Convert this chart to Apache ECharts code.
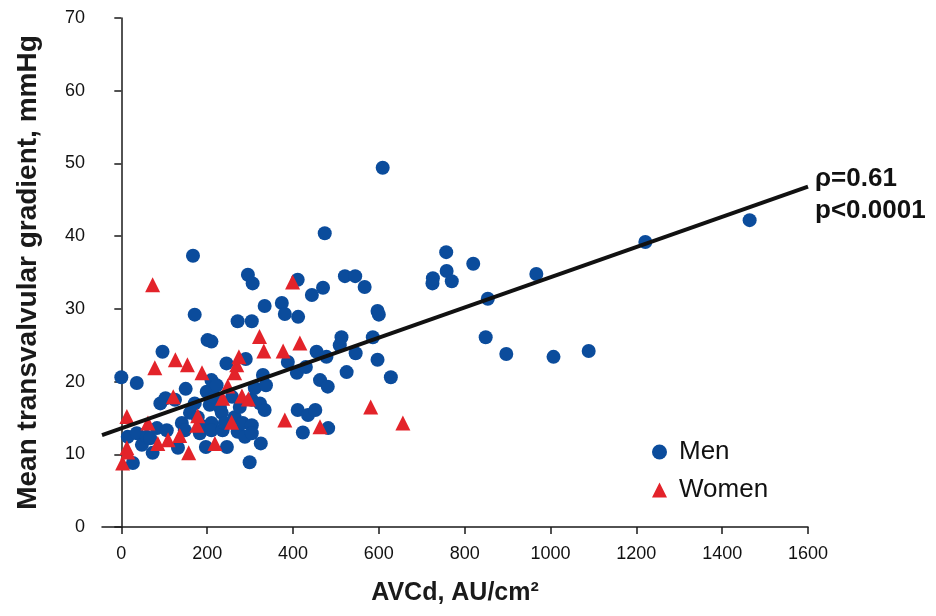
<!DOCTYPE html>
<html>
<head>
<meta charset="utf-8">
<script src="https://cdn.jsdelivr.net/npm/echarts@6/dist/echarts.min.js"></script>
<style>html,body{margin:0;padding:0;background:#fff;}#c{width:936px;height:616px;}</style>
</head>
<body>
<div id="c"></div>
<script>
var xTicks = [0, 200, 400, 600, 800, 1000, 1200, 1400, 1600];
var yTicks = [0, 10, 20, 30, 40, 50, 60, 70];

var men = [[0,20.6],[15,12.4],[27,8.8],[36,19.8],[36,12.9],[48,11.3],[59,12.4],[67,12.2],[73,10.2],[83,13.6],
[91,17],[96,24.1],[103,17.7],[106,13.3],[125,17.5],[132,10.9],[141,14.3],[148,13.3],[150,19],[160,15.7],
[167,37.3],[171,29.2],[171,17],[178,15.1],[183,12.9],[194,13.8],[197,11],[199,18.6],[201,25.7],[206,16.8],
[210,25.5],[210,20.2],[210,14.3],[210,13.3],[218,17.9],[222,19.5],[230,16.4],[234,15.7],[236,13.3],[241,14.3],
[245,22.5],[246,11],[258,17.9],[264,15.1],[271,28.3],[271,13.1],[276,16.5],[283,14.3],[288,12.4],[290,23.1],
[295,34.7],[299,8.9],[304,28.3],[304,17.5],[304,14],[304,12.9],[306,33.5],[311,19.1],[323,17],[325,11.5],
[330,20.9],[334,30.4],[334,16.1],[337,19.5],[374,30.8],[381,29.3],[388,22.7],[409,21.2],[411,34],[411,16.1],
[412,28.9],[423,13],[430,22],[435,15.4],[444,31.9],[452,16.1],[455,24.1],[463,20.2],[470,32.9],[474,40.4],
[478,23.4],[481,19.3],[482,13.6],[509,25],[513,26.1],[521,34.5],[525,21.3],[545,34.5],[546,23.9],[567,33],
[586,26.1],[597,29.7],[597,23],[600,29.2],[609,49.4],[628,20.6],[725,33.5],[726,34.2],[757,37.8],[758,35.2],
[770,33.8],[820,36.2],[849,26.1],[854,31.4],[897,23.8],[967,34.8],[1007,23.4],[1089,24.2],[1221,39.2],[1464,42.2]];

var women = [[3,8.8],[13,10.9],[15,10.3],[13,15.2],[62,14.3],[73,33.3],[78,21.9],[85,11.5],[109,12],[121,17.9],
[126,23],[136,12.6],[154,22.3],[157,10.2],[176,14],[178,15.3],[188,21.2],[218,11.5],[236,17.7],[248,19.4],
[257,14.4],[264,21.2],[269,22.3],[274,23.4],[281,18],[296,17.6],[322,26.2],[332,24.2],[377,24.2],[381,14.7],
[399,33.7],[416,25.3],[463,13.8],[581,16.5],[656,14.3]];

var trendX = [-45, 1600];
var trendY = [12.65, 46.8];

var chart = echarts.init(document.getElementById('c'));
var font = '"Liberation Sans", Arial, Helvetica, sans-serif';
chart.setOption({
  animation: false,
  backgroundColor: '#fff',
  textStyle: {fontFamily: font},
  grid: {left: 102, right: 128, top: 18, bottom: 89},
  xAxis: {
    type: 'value', min: -45, max: 1600,
    name: 'AVCd, AU/cm²', nameLocation: 'middle', nameGap: 54,
    nameTextStyle: {fontSize: 25, fontWeight: 'bold', color: '#1a1a1a', fontFamily: font},
    axisLine: {show: true, onZero: false, lineStyle: {color: '#1a1a1a', width: 1.5}},
    axisTick: {show: true, length: 7, customValues: xTicks, lineStyle: {color: '#1a1a1a', width: 1.5}},
    axisLabel: {customValues: xTicks, fontSize: 18, color: '#111', margin: 18, fontFamily: font,
      formatter: function (v) { return String(v); }},
    splitLine: {show: false}
  },
  yAxis: {
    type: 'value', min: 0, max: 70, interval: 10,
    name: 'Mean transvalvular gradient, mmHg', nameLocation: 'middle', nameGap: 60,
    nameTextStyle: {fontSize: 28, fontWeight: 'bold', color: '#1a1a1a', fontFamily: font},
    axisLine: {show: true, lineStyle: {color: '#1a1a1a', width: 1.5}},
    axisTick: {show: true, length: 7, lineStyle: {color: '#1a1a1a', width: 1.5}},
    axisLabel: {fontSize: 18, color: '#111', margin: 17, fontFamily: font,
      customValues: yTicks, formatter: function (v) { return String(v); }},
    splitLine: {show: false}
  },
  legend: {
    orient: 'vertical', left: 647, top: 434, itemWidth: 15, itemHeight: 15, itemGap: 12,
    textStyle: {fontSize: 26, color: '#111', fontFamily: font, padding: [0, 0, 0, 7]},
    data: ['Men', 'Women']
  },
  graphic: [
    {type: 'text', left: 815, top: 166, style: {text: 'ρ=0.61', font: 'bold 26px ' + font, fill: '#111'}},
    {type: 'text', left: 815, top: 198, style: {text: 'p<0.0001', font: 'bold 26px ' + font, fill: '#111'}}
  ],
  series: [
    {name: 'Men', type: 'scatter', symbol: 'circle', symbolSize: 14, data: men,
      itemStyle: {color: '#0b4c9c', opacity: 1}, z: 2},
    {name: 'Women', type: 'scatter', symbol: 'triangle', symbolSize: 15, data: women,
      itemStyle: {color: '#e3232a', opacity: 1}, z: 3},
    {name: 'fit', type: 'line', data: trendX.map(function (x, i) { return [x, trendY[i]]; }),
      symbol: 'none', lineStyle: {color: '#111', width: 4}, z: 4, silent: true}
  ]
});
</script>
</body>
</html>
